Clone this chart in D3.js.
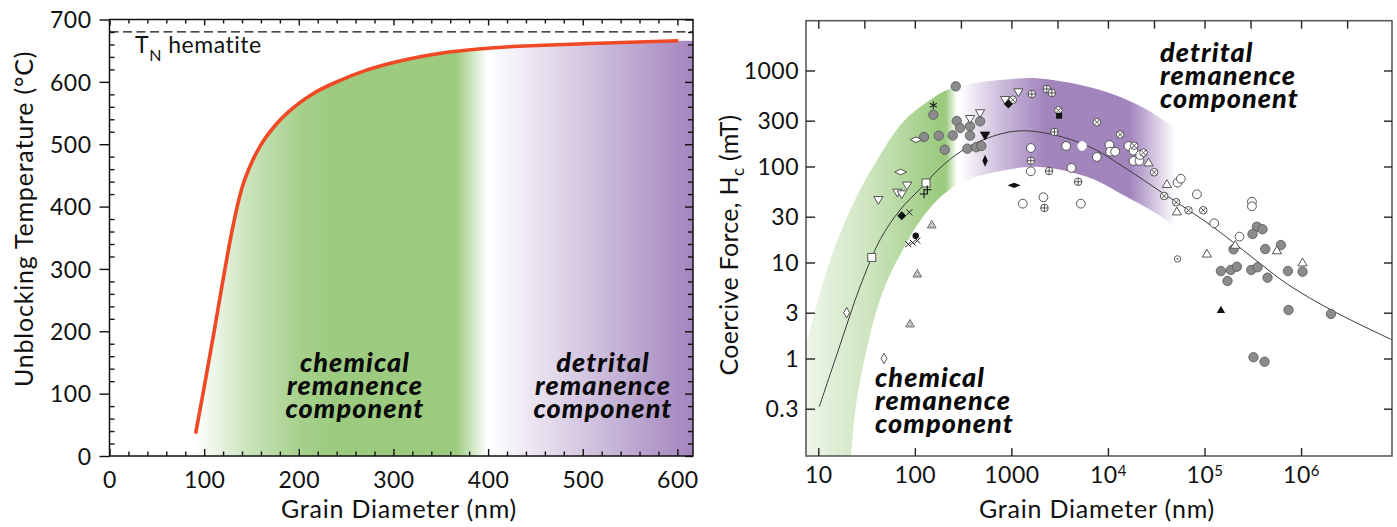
<!DOCTYPE html>
<html><head><meta charset="utf-8">
<script src="https://cdn.jsdelivr.net/npm/d3@7"></script>
<style>body{margin:0;background:#fff}svg{display:block}</style>
</head><body><svg id="c" width="1397" height="527"></svg>
<script>
// ================= DATA: left panel (unblocking temperature) =================
const tempXTicks = [0,100,200,300,400,500,600];
const tempYTicks = [0,100,200,300,400,500,600,700];
const neelTemp = 680;
const curveDiam = [91,100,110,120,130,140,150,160,175,190,215,240,270,300,350,400,500,601];
const curveTemp = [36,110,195,283,365,430,470,499,530,553,581,600,618,631,646,654,661,666];
const leftLabels = ["chemical","remanence","component"];
const leftLabels2 = ["detrital","remanence","component"];

// ================= DATA: right panel (coercive force) =================
const hcTicks = [0.3,1,3,10,30,100,300,1000];
const diamTicks = [10,100,1000,1e4,1e5,1e6];
const diamTopTicks = [10,30,100,300,1000,3000,1e4,3e4,1e5,3e5,1e6,3e6];
const fitDiam = [10.24,16.8,27.0,43.6,70.2,113.2,182.4,294,534,1146,2518,6541,15080,38220,123100,319600,719500,2157000,8810000];
const fitHc   = [0.315,1.38,5.56,17.2,35.2,58.3,96.5,141.6,193.4,234.4,218,159.6,96.5,51.7,23.4,11.1,5.97,3.12,1.56];
const bandUpperDiam = [3.65,7.46,9.93,13.54,18.9,27.0,40.6,75.4,143.7,243,763.6,1983,8305,21560,49700,90260];
const bandUpperHc   = [0.0965,1.38,4.07,11.14,26.4,56.9,116.9,290.8,492.8,657,796,825,626,426.8,251.8,167.5];
const bandLowerDiam = [21.3,25.0,34.3,41.9,53.1,73.2,100.5,143.7,205.6,331.3,763.6,1983,6541,14370,32350,50900,90260];
const bandLowerHc   = [0.069,0.37,1.76,3.61,6.84,12.96,22.7,37.0,52.97,70.6,89.8,98.8,75.9,50.5,32.0,22.9,15.2];

const grayCircles = [[155.5,346],[265.3,684],[271.8,297.8],[294,251.8],[124.5,202.8],[176.9,209.4],[247,210.3],[204,149.6],
  [373,262.3],[473.8,295.7],[373,209.4],[349.9,153.2],[430.7,158.5],[488.8,163.5],
  [349000,23.6],[399000,22.2],[314400,19.8],[425600,13.8],[619000,15.2],[199800,13.7],[147900,8.15],[187700,8.36],
  [216700,9.04],[173100,6.42],[304800,8.36],[354200,8.91],[449600,6.95],[731500,8.15],[1036000,8.02],[742000,3.2],
  [2042000,2.91],[321900,1.03],[418500,0.926]];
const openCircles = [[1589,155.8],[3688,163.5],[7674,125.6],[1589,89.1],[4186,96.5],[2146,47.8],[1313,41.0],[5238,41.0],
  [10360,167.5],[10540,142.6],[11870,142.6],[16310,163.5],[18380,146.1],[18380,114.1],[21200,114.1],[21560,131.8],
  [52510,67.8],[56940,74.6],[83420,51.3],[126000,25.6],[230500,18.6],[309900,43.0],[309900,38.5]];
const whiteCircles = [[5403,163.5]];
const crossedCircles = [[1034,496],[3069,385],[7674,288.7],[13380,215.4],[18690,164.7],[23330,139.3],[30110,87.0],
  [38220,49.3],[50900,42.4],[68270,35.0],[96940,35.0]];
const plusCircles = [[1627,569],[2327,641.6],[2623,583],[2790,228.8],[1589,114.9],[2459,89.8],[4912,69.4],[2198,37.0]];
const dotCircles = [[52510,10.9]];
const triDownOpen = [[1182,597],[860.6,496],[473.8,360.8],[373,314.7],[83.0,63.7],[65.9,53.8],[73.2,51.7],[41.9,45.1]];
const triDownFilled = [[534,211.3]];
const triUpOpen = [[26290,109.5],[40780,65.3],[51760,33.8],[208000,15.2],[562700,13.3],[105900,12.3],[1036000,9.95]];
const triUpFilled = [[147900,3.2]];
const triDot = [[149.7,24.6],[106.1,7.59],[89.2,2.29]];
const diamondOpenV = [[19.7,3.0],[47.96,1.0]];
const diamondOpenH = [[102.9,190.2],[71.4,87.6]];
const diamondFilled = [[73.2,30.7],[930.8,447.7]];
const diamondFilledV = [[534,114.9]];
const diamondFilledH = [[1067,63.7]];
const squareOpen = [[130.6,67.3],[35.8,11.3]];
const squareFilled = [[3121,338]];
const plusMarks = [[134.7,57.3],[124.5,51.7]];
const crossMarks = [[87.7,33.3],[85.6,15.5],[95.1,16.1],[106.1,16.9]];
const asteriskMarks = [[155.5,434]];
const blackDots = [[102.2,19.0]];
const rightLabelsTop = ["detrital","remanence","component"];
const rightLabelsBottom = ["chemical","remanence","component"];

// ================= DRAWING =================
const W = 1397, H = 527;
const FONT = "Lato, 'Open Sans', 'DejaVu Sans', sans-serif";
const GREEN = "#9ccb7f", PURPLE = "#a385be";
const svg = d3.select("#c");
const defs = svg.append("defs");

function hgrad(id, stops){
  const g = defs.append("linearGradient").attr("id", id).attr("gradientUnits","userSpaceOnUse")
    .attr("x1",0).attr("x2",W).attr("y1",0).attr("y2",0);
  stops.forEach(([px,c,o]) => g.append("stop").attr("offset", px/W).attr("stop-color", c).attr("stop-opacity", o));
}
function titleText(g){ return g.append("text").attr("font-family",FONT).attr("font-size",25)
  .attr("letter-spacing",0.8).attr("fill","#111"); }

// ---------- LEFT PANEL ----------
const tx = d3.scaleLinear().domain([0, 616.5]).range([109.5, 693]);
const ty = d3.scaleLinear().domain([0, 700]).range([456, 19.5]);
const L = svg.append("g");
defs.append("clipPath").attr("id","clipL").append("rect")
  .attr("x", tx(0)).attr("y", ty(700)).attr("width", tx(616.5)-tx(0)).attr("height", ty(0)-ty(700));

hgrad("gL", [
  [tx(91),GREEN,0],[tx(149),GREEN,0.55],[tx(201),GREEN,0.9],[tx(239),GREEN,1],[tx(366),GREEN,1],[tx(399.5),GREEN,0],
  [tx(401),PURPLE,0],[tx(616.5),PURPLE,1]
]);
const curvePts = curveDiam.map((d,i)=>[d, curveTemp[i]]);
const fillPts = curvePts.concat([[616.5, curveTemp[curveTemp.length-1]]]);
L.append("path").attr("clip-path","url(#clipL)")
  .attr("d", d3.area().x(d=>tx(d[0])).y0(ty(0)).y1(d=>ty(d[1])).curve(d3.curveMonotoneX)(fillPts))
  .attr("fill","url(#gL)");

// Neel temperature line
L.append("line").attr("x1",tx(0)).attr("x2",tx(616.5)).attr("y1",ty(neelTemp)).attr("y2",ty(neelTemp))
  .attr("stroke","#111").attr("stroke-width",1.2).attr("stroke-dasharray","9,4.5");
const tn = L.append("text").attr("x", tx(27)).attr("y", ty(646)).attr("font-family",FONT).attr("font-size",23)
  .attr("letter-spacing",0.5).attr("fill","#111");
tn.append("tspan").text("T");
tn.append("tspan").attr("font-size",16).attr("dy",8).text("N");
tn.append("tspan").attr("dy",-8).text(" hematite");

// red curve
L.append("path").attr("d", d3.line().x(d=>tx(d[0])).y(d=>ty(d[1])).curve(d3.curveMonotoneX)(curvePts))
  .attr("fill","none").attr("stroke","#ef4a25").attr("stroke-width",3.6);

// frame
L.append("rect").attr("x",tx(0)).attr("y",ty(700)).attr("width",tx(616.5)-tx(0)).attr("height",ty(0)-ty(700))
  .attr("fill","none").attr("stroke","#111").attr("stroke-width",1.5);

const tempXMinor = d3.range(0, 617, 20).filter(v => v % 100 !== 0);
const tempYMinor = d3.range(0, 701, 20).filter(v => v % 100 !== 0);
function styleAxis(g, color){ g.select(".domain").remove(); g.selectAll("line").attr("stroke",color).attr("stroke-width",1.4);
  g.selectAll("text").attr("font-family",FONT).attr("font-size",23).attr("letter-spacing",0.5).attr("fill","#111"); }
// bottom
L.append("g").attr("transform",`translate(0,${ty(0)})`)
  .call(d3.axisBottom(tx).tickValues(tempXTicks).tickSize(-7).tickPadding(16).tickFormat(d3.format("d"))).call(g=>styleAxis(g,"#111"));
L.append("g").attr("transform",`translate(0,${ty(0)})`)
  .call(d3.axisBottom(tx).tickValues(tempXMinor).tickSize(-4.5).tickFormat("")).call(g=>styleAxis(g,"#111"));
// top
L.append("g").attr("transform",`translate(0,${ty(700)})`)
  .call(d3.axisTop(tx).tickValues(tempXTicks).tickSize(-6).tickFormat("")).call(g=>styleAxis(g,"#111"));
L.append("g").attr("transform",`translate(0,${ty(700)})`)
  .call(d3.axisTop(tx).tickValues(tempXMinor).tickSize(-4).tickFormat("")).call(g=>styleAxis(g,"#111"));
// left
L.append("g").attr("transform",`translate(${tx(0)},0)`)
  .call(d3.axisLeft(ty).tickValues(tempYTicks).tickSize(10).tickPadding(8).tickFormat(d3.format("d"))).call(g=>styleAxis(g,"#111"))
  .call(g=>g.selectAll("text").attr("dy","0.36em"));
L.append("g").attr("transform",`translate(${tx(0)},0)`)
  .call(d3.axisLeft(ty).tickValues(tempYMinor).tickSize(-5).tickFormat("")).call(g=>styleAxis(g,"#111"));
// right
L.append("g").attr("transform",`translate(${tx(616.5)},0)`)
  .call(d3.axisRight(ty).tickValues(tempYTicks).tickSize(-8).tickFormat("")).call(g=>styleAxis(g,"#111"));
L.append("g").attr("transform",`translate(${tx(616.5)},0)`)
  .call(d3.axisRight(ty).tickValues(tempYMinor).tickSize(-5).tickFormat("")).call(g=>styleAxis(g,"#111"));

// axis titles
titleText(L).attr("transform","translate(33,219) rotate(-90)").attr("text-anchor","middle").text("Unblocking Temperature (°C)");
titleText(L).attr("x",399).attr("y",518).attr("text-anchor","middle").text("Grain Diameter (nm)");

function boldBlock(g, lines, x, y0, anchor){
  const t = g.append("text").attr("x",x).attr("y",y0).attr("text-anchor",anchor)
    .attr("font-family",FONT).attr("font-weight",900).attr("font-style","italic").attr("font-size",27)
    .attr("letter-spacing",1.1).attr("fill","#0a0a0a");
  lines.forEach((s,i)=> t.append("tspan").attr("x",x).attr("dy", i===0 ? 0 : 22.8).text(s));
}
boldBlock(L, leftLabels, 355, 372, "middle");
boldBlock(L, leftLabels2, 603, 372, "middle");

// ---------- RIGHT PANEL ----------
const rx = d3.scaleLog().domain([7.46, 8.75e6]).range([806, 1392]);
const ry = d3.scaleLog().domain([0.0965, 3300]).range([456, 20.7]);
const R = svg.append("g");
defs.append("clipPath").attr("id","clipR").append("rect")
  .attr("x",806).attr("y",20.7).attr("width",1392-806).attr("height",456-20.7);

hgrad("gR", [
  [rx(7.46),GREEN,0.18],[rx(34),GREEN,0.5],[rx(89),GREEN,0.8],[rx(182),GREEN,1],[rx(210),GREEN,1],[rx(272),GREEN,0],
  [rx(290),PURPLE,0],[rx(780),PURPLE,0.55],[rx(2200),PURPLE,1],[rx(17000),PURPLE,1],[rx(50000),PURPLE,0]
]);
const upper = bandUpperDiam.map((d,i)=>[rx(d), ry(bandUpperHc[i])]);
const lower = bandLowerDiam.map((d,i)=>[rx(d), ry(bandLowerHc[i])]);
const lineGen = d3.line().curve(d3.curveCatmullRom);
const bandPath = lineGen(upper) + "L" + lineGen(lower.slice().reverse()).slice(1) + "Z";
R.append("path").attr("clip-path","url(#clipR)").attr("d", bandPath).attr("fill","url(#gR)");

// fit curve
R.append("path").attr("clip-path","url(#clipR)")
  .attr("d", d3.line().x(d=>rx(d[0])).y(d=>ry(d[1])).curve(d3.curveCatmullRom)(fitDiam.map((d,i)=>[d,fitHc[i]])))
  .attr("fill","none").attr("stroke","#3a3a3a").attr("stroke-width",1);

// markers
const M = R.append("g").attr("clip-path","url(#clipR)");
const STK = "#444";
function place(arr){ return M.selectAll(null).data(arr).enter().append("g")
  .attr("transform", d=>`translate(${rx(d[0])},${ry(d[1])})`); }
place(grayCircles).append("circle").attr("r",4.7).attr("fill","#8b8b8b").attr("stroke","#555").attr("stroke-width",0.8);
place(openCircles).append("circle").attr("r",4.4).attr("fill","#fff").attr("stroke",STK).attr("stroke-width",0.9);
place(whiteCircles).append("circle").attr("r",4.4).attr("fill","#fff").attr("stroke","#f4f0f8").attr("stroke-width",0.9);
place(crossedCircles).call(g=>{
  g.append("circle").attr("r",3.8).attr("fill","#fff").attr("stroke",STK).attr("stroke-width",0.9);
  g.append("path").attr("d","M-2.4,-2.4L2.4,2.4M-2.4,2.4L2.4,-2.4").attr("stroke",STK).attr("stroke-width",0.9);
});
place(plusCircles).call(g=>{
  g.append("circle").attr("r",3.8).attr("fill","#fff").attr("stroke",STK).attr("stroke-width",0.9);
  g.append("path").attr("d","M-3.8,0L3.8,0M0,-3.8L0,3.8").attr("stroke",STK).attr("stroke-width",0.9);
});
place(dotCircles).call(g=>{
  g.append("circle").attr("r",3.2).attr("fill","#fff").attr("stroke",STK).attr("stroke-width",0.9);
  g.append("circle").attr("r",0.9).attr("fill",STK);
});
place(triDownOpen).append("path").attr("d","M-4.6,-3.2L4.6,-3.2L0,4.6Z").attr("fill","#fff").attr("stroke",STK).attr("stroke-width",0.9);
place(triDownFilled).append("path").attr("d","M-4.6,-3.2L4.6,-3.2L0,4.6Z").attr("fill","#111").attr("stroke","#111").attr("stroke-width",0.9);
place(triUpOpen).append("path").attr("d","M-4.6,3.2L4.6,3.2L0,-4.6Z").attr("fill","#fff").attr("stroke",STK).attr("stroke-width",0.9);
place(triUpFilled).append("path").attr("d","M-4.2,3L4.2,3L0,-4.3Z").attr("fill","#111");
place(triDot).call(g=>{
  g.append("path").attr("d","M-4.3,3L4.3,3L0,-4.5Z").attr("fill","#eee").attr("stroke","#555").attr("stroke-width",0.9);
  g.append("path").attr("d","M-2,1.6L2,1.6L0,-1.8Z").attr("fill","#fff").attr("stroke","#666").attr("stroke-width",0.6);
});
place(diamondOpenV).append("path").attr("d","M0,-5.2L3,0L0,5.2L-3,0Z").attr("fill","#fff").attr("stroke",STK).attr("stroke-width",0.9);
place(diamondOpenH).append("path").attr("d","M-6,0L0,-2.8L6,0L0,2.8Z").attr("fill","#fff").attr("stroke",STK).attr("stroke-width",0.9);
place(diamondFilled).append("path").attr("d","M0,-4.5L4.5,0L0,4.5L-4.5,0Z").attr("fill","#111");
place(diamondFilledV).append("path").attr("d","M0,-6L2.7,0L0,6L-2.7,0Z").attr("fill","#111");
place(diamondFilledH).append("path").attr("d","M-6.5,0L0,-2.6L6.5,0L0,2.6Z").attr("fill","#111");
place(squareOpen).append("rect").attr("x",-4).attr("y",-4).attr("width",8).attr("height",8).attr("fill","#fff").attr("stroke","#555").attr("stroke-width",1);
place(squareFilled).append("rect").attr("x",-3).attr("y",-3).attr("width",6).attr("height",6).attr("fill","#111");
place(plusMarks).append("path").attr("d","M-4.2,0L4.2,0M0,-4.2L0,4.2").attr("stroke","#111").attr("stroke-width",1.1);
place(crossMarks).append("path").attr("d","M-3,-3L3,3M-3,3L3,-3").attr("stroke","#222").attr("stroke-width",1);
place(asteriskMarks).append("path").attr("d","M0,-4L0,4M-3.5,-2L3.5,2M-3.5,2L3.5,-2").attr("stroke","#222").attr("stroke-width",1.1);
place(blackDots).append("circle").attr("r",3.2).attr("fill","#111");

// frame
R.append("rect").attr("x",806).attr("y",20.7).attr("width",1392-806).attr("height",456-20.7)
  .attr("fill","none").attr("stroke","#5a5a5a").attr("stroke-width",1.6);
// axes
R.append("g").attr("transform","translate(0,456)")
  .call(d3.axisBottom(rx).tickValues(diamTicks).tickSize(-8).tickPadding(11).tickFormat(d=>String(d)))
  .call(g=>styleAxis(g,"#222"))
  .call(g=>g.selectAll("text").each(function(d){
    const e = Math.round(Math.log10(d));
    if (e >= 4){ const t = d3.select(this); t.text("10"); t.append("tspan").attr("dy","-0.5em").attr("font-size",15).text(e); }
  }));
R.append("g").attr("transform","translate(0,20.7)")
  .call(d3.axisTop(rx).tickValues(diamTopTicks).tickSize(-8).tickFormat("")).call(g=>styleAxis(g,"#222"));
R.append("g").attr("transform","translate(806,0)")
  .call(d3.axisLeft(ry).tickValues(hcTicks).tickSize(-9).tickPadding(7).tickFormat(d=>String(d)))
  .call(g=>styleAxis(g,"#222")).call(g=>g.selectAll("text").attr("dy","0.36em").attr("x",-7));
R.append("g").attr("transform","translate(1392,0)")
  .call(d3.axisRight(ry).tickValues(hcTicks).tickSize(-8).tickFormat("")).call(g=>styleAxis(g,"#222"));

const yt = titleText(R).attr("transform","translate(738,245) rotate(-90)").attr("text-anchor","middle").attr("letter-spacing",0.3);
yt.append("tspan").text("Coercive Force, H");
yt.append("tspan").attr("font-size",17).attr("dy",6).text("c");
yt.append("tspan").attr("dy",-6).text(" (mT)");
titleText(R).attr("x",1097).attr("y",518).attr("text-anchor","middle").text("Grain Diameter (nm)");

boldBlock(R, rightLabelsTop, 1160, 62, "start");
boldBlock(R, rightLabelsBottom, 875, 387, "start");
</script></body></html>
